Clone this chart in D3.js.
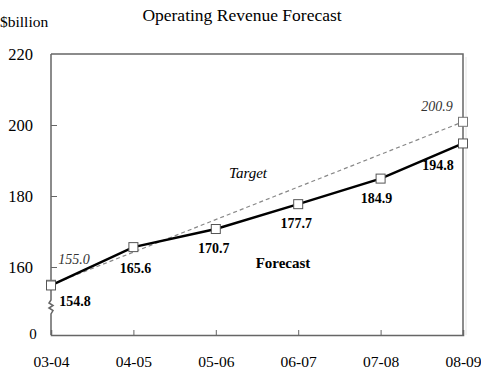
<!DOCTYPE html>
<html>
<head>
<meta charset="utf-8">
<script src="https://cdn.jsdelivr.net/npm/d3@7"></script>
<style>
  body { margin: 0; background: #fff; }
  text { font-family: "Liberation Serif", "Times New Roman", serif; }
</style>
</head>
<body>
<div id="vizcontainer"></div>
<script>
const years = ['03-04', '04-05', '05-06', '06-07', '07-08', '08-09'];
const forecast = [154.8, 165.6, 170.7, 177.7, 184.9, 194.8];
const targetYears = ['03-04', '08-09'];
const target = [155.0, 200.9];
const yTicks = [160, 180, 200, 220];

const width = 481, height = 375;
const plot = { left: 51, right: 463, top: 54, bottom: 335 };

const svg = d3.select('#vizcontainer')
  .append('svg')
  .attr('width', width)
  .attr('height', height);

const x = d3.scalePoint()
  .domain(years)
  .range([plot.left, plot.right]);

const y = d3.scaleLinear()
  .domain([160, 220])
  .range([267, plot.top]);

// titles
svg.append('text')
  .text('Operating Revenue Forecast')
  .attr('x', 242).attr('y', 21)
  .attr('text-anchor', 'middle')
  .attr('font-size', '17.5px');

svg.append('text')
  .text('$billion')
  .attr('x', 0).attr('y', 27)
  .attr('font-size', '15.5px');

// frame: top and right sides
svg.append('path')
  .attr('d', `M${plot.left},${plot.top}H${plot.right}V${plot.bottom}`)
  .attr('fill', 'none')
  .attr('stroke', '#666')
  .attr('stroke-width', 1.5);

// faint shadow line on the right
svg.append('line')
  .attr('x1', plot.right + 3).attr('x2', plot.right + 3)
  .attr('y1', plot.top + 3).attr('y2', plot.bottom)
  .attr('stroke', '#e4e4e4');

// bottom axis
const xAxis = svg.append('g')
  .attr('transform', `translate(0,${plot.bottom})`)
  .call(d3.axisBottom(x).tickSize(-5).tickPadding(21));
xAxis.select('.domain').attr('stroke', '#666').attr('stroke-width', 1.5);
xAxis.selectAll('.tick line').attr('stroke', '#666');
xAxis.selectAll('.tick').filter(d => d === years[0] || d === years[years.length - 1]).select('line').remove();
xAxis.selectAll('text')
  .attr('font-size', '15.5px')
  .attr('font-family', '"Liberation Serif", serif')
  .attr('fill', '#000');

// left axis with a break
const yBreak = 300;
svg.append('path')
  .attr('d', `M${plot.left},${plot.top}V${yBreak}l-2,3l4,2.5l-4,2.5l4,2.5l-2,3.5V${plot.bottom}`)
  .attr('fill', 'none')
  .attr('stroke', '#666')
  .attr('stroke-width', 1.5);

const yAxis = svg.append('g')
  .attr('transform', `translate(${plot.left},0)`)
  .call(d3.axisLeft(y).tickValues(yTicks).tickSizeInner(6).tickSizeOuter(0).tickPadding(12));
yAxis.select('.domain').remove();
yAxis.selectAll('.tick line').attr('x2', 6).attr('stroke', '#666');
yAxis.selectAll('.tick').filter(d => d === 220).select('line').remove();
yAxis.selectAll('text')
  .attr('font-size', '16.5px')
  .attr('font-family', '"Liberation Serif", serif')
  .attr('fill', '#000');

svg.append('text')
  .text('0')
  .attr('x', 33).attr('y', plot.bottom + 4)
  .attr('text-anchor', 'middle')
  .attr('font-size', '15px');

const targetData = targetYears.map((t, i) => ({ year: t, value: target[i] }));
const forecastData = years.map((t, i) => ({ year: t, value: forecast[i] }));

const line = d3.line()
  .x(d => x(d.year))
  .y(d => y(d.value));

svg.append('path')
  .datum(targetData)
  .attr('d', line)
  .attr('fill', 'none')
  .attr('stroke', '#888')
  .attr('stroke-width', 1.2)
  .attr('stroke-dasharray', '4,3');

svg.append('path')
  .datum(forecastData)
  .attr('d', line)
  .attr('fill', 'none')
  .attr('stroke', '#000')
  .attr('stroke-width', 2.5);

const sq = 9;
svg.selectAll('.tmark')
  .data(targetData)
  .join('rect')
  .attr('x', d => x(d.year) - sq / 2)
  .attr('y', d => y(d.value) - sq / 2)
  .attr('width', sq).attr('height', sq)
  .attr('fill', '#fff')
  .attr('stroke', '#777');

svg.selectAll('.fmark')
  .data(forecastData)
  .join('rect')
  .attr('x', d => x(d.year) - sq / 2)
  .attr('y', d => y(d.value) - sq / 2)
  .attr('width', sq).attr('height', sq)
  .attr('fill', '#fff')
  .attr('stroke', '#555');

// value labels
const fOffsets = [[24, 21], [2, 26], [-2, 24], [-2, 24], [-4, 24], [-25, 27]];
svg.selectAll('.flabel')
  .data(forecastData)
  .join('text')
  .text(d => d.value.toFixed(1))
  .attr('x', (d, i) => x(d.year) + fOffsets[i][0])
  .attr('y', (d, i) => y(d.value) + fOffsets[i][1])
  .attr('text-anchor', 'middle')
  .attr('font-size', '14px')
  .attr('font-weight', 'bold');

const tOffsets = [[23, -21], [-26, -11]];
svg.selectAll('.tlabel')
  .data(targetData)
  .join('text')
  .text(d => d.value.toFixed(1))
  .attr('x', (d, i) => x(d.year) + tOffsets[i][0])
  .attr('y', (d, i) => y(d.value) + tOffsets[i][1])
  .attr('text-anchor', 'middle')
  .attr('font-size', '14px')
  .attr('font-style', 'italic')
  .attr('fill', '#333');

svg.append('text')
  .text('Target')
  .attr('x', 248).attr('y', 178)
  .attr('text-anchor', 'middle')
  .attr('font-size', '15px')
  .attr('font-style', 'italic');

svg.append('text')
  .text('Forecast')
  .attr('x', 283).attr('y', 268)
  .attr('text-anchor', 'middle')
  .attr('font-size', '15px')
  .attr('font-weight', 'bold');
</script>
</body>
</html>
